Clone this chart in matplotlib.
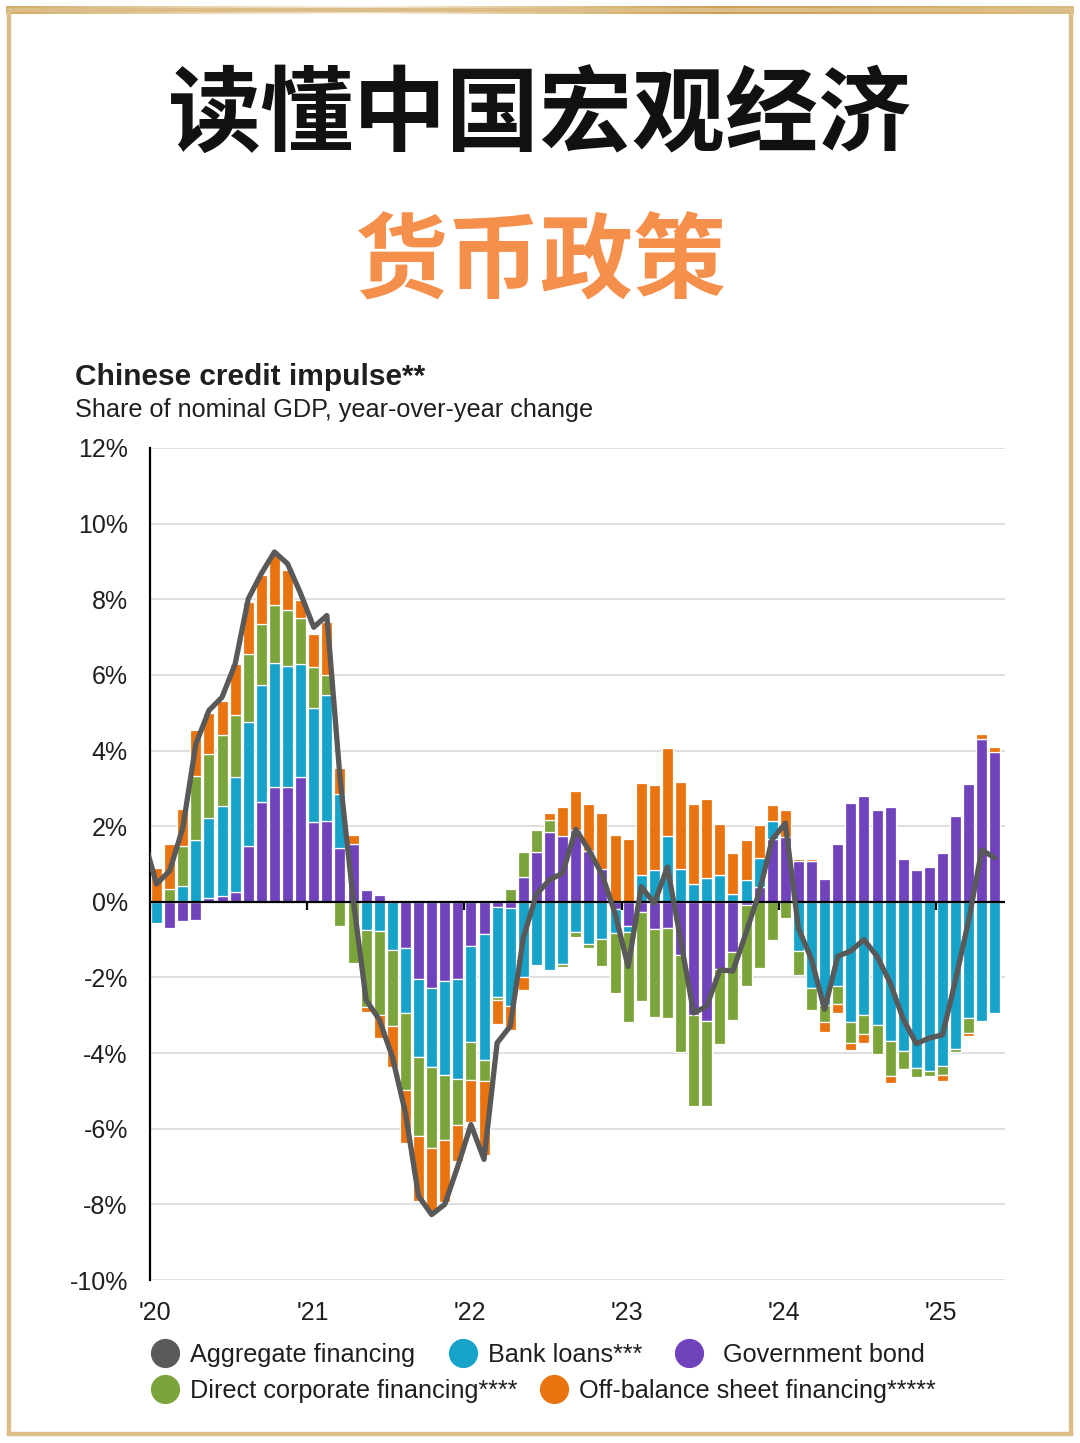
import matplotlib
matplotlib.use('Agg')
import matplotlib.pyplot as plt
import numpy as np
from matplotlib.colors import LinearSegmentedColormap
from matplotlib.lines import Line2D
from matplotlib.patches import Rectangle

plt.rcParams['font.family'] = ['Liberation Sans', 'DejaVu Sans']

# monthly bars, Jan 2020 .. May 2025 (share of nominal GDP, % yoy change)
gov_bond = [0, -0.68, -0.5, -0.49, 0.11, 0.16, 0.25, 1.48, 2.63, 3.04, 3.04, 3.29,
            2.1, 2.13, 1.42, 1.53, 0.31, 0.19, 0, -1.23, -2.05, -2.27, -2.1, -2.05,
            -1.17, -0.86, -0.13, -0.16, 0.66, 1.32, 1.85, 1.73, 1.9, 1.35, 0.87, -0.2,
            -0.63, -0.28, -0.72, -0.68, -1.4, -2.99, -3.14, -1.77, -1.33, -0.08, 0.4, 1.65,
            1.72, 1.09, 1.07, 0.61, 1.52, 2.62, 2.81, 2.44, 2.5, 1.12, 0.83, 0.92,
            1.3, 2.26, 3.11, 4.3, 3.95]
bank_loans = [-0.55, 0, 0.42, 1.63, 2.1, 2.38, 3.05, 3.27, 3.09, 3.27, 3.2, 3.0,
              3.02, 3.33, 1.43, 0, -0.75, -0.76, -1.28, -1.7, -2.05, -2.1, -2.49, -2.63,
              -2.54, -3.33, -2.38, -2.6, -1.99, -1.68, -1.81, -1.64, -0.81, -1.12, -0.99, -0.62,
              -0.18, 0.7, 0.83, 1.73, 0.88, 0.48, 0.62, 0.7, 0.2, 0.57, 0.76, 0.48,
              0, -1.3, -2.29, -2.73, -2.22, -3.17, -3.0, -3.26, -3.67, -3.95, -4.39, -4.47,
              -4.33, -3.89, -3.06, -3.15, -2.94]
direct_corp = [0, 0.34, 1.06, 1.7, 1.69, 1.88, 1.63, 1.79, 1.62, 1.55, 1.47, 1.22,
               1.09, 0.53, -0.64, -1.61, -2.04, -2.23, -2.0, -2.05, -2.1, -2.14, -1.7, -1.22,
               -1.0, -0.55, -0.09, 0.33, 0.66, 0.57, 0.31, -0.08, -0.11, -0.09, -0.72, -1.6,
               -2.36, -2.33, -2.32, -2.4, -2.58, -2.4, -2.25, -1.99, -1.79, -2.14, -1.76, -1.01,
               -0.44, -0.63, -0.57, -0.44, -0.47, -0.56, -0.49, -0.77, -0.93, -0.46, -0.24, -0.13,
               -0.26, -0.09, -0.41, 0, 0]
off_balance = [0.9, 1.19, 0.97, 1.22, 1.08, 0.88, 1.37, 1.39, 1.3, 1.3, 1.06, 0.48,
               0.88, 1.41, 0.69, 0.25, -0.13, -0.6, -1.08, -1.39, -1.7, -1.66, -1.66, -0.95,
               -1.1, -1.96, -0.62, -0.62, -0.35, 0, 0.18, 0.78, 1.04, 1.23, 1.47, 1.77,
               1.66, 2.44, 2.25, 2.34, 2.29, 2.1, 2.1, 1.35, 1.1, 1.06, 0.87, 0.44,
               0.72, 0.05, 0.06, -0.28, -0.26, -0.2, -0.25, 0, -0.18, -0.04, 0, 0,
               -0.16, 0, -0.08, 0.15, 0.15]
# aggregate financing line, Dec 2019 .. May 2025
aggregate = [1.7, 0.47, 0.82, 1.95, 4.17, 5.06, 5.41, 6.29, 8.01, 8.68, 9.25, 8.94, 8.15,
             7.26, 7.57, 3.3, 0.1, -2.6, -3.11, -4.1, -5.58, -7.78, -8.27, -8.0, -6.99,
             -5.89, -6.81, -3.73, -3.29, -0.95, 0.2, 0.58, 0.76, 1.92, 1.37, 0.73, -0.3,
             -1.71, 0.4, -0.04, 0.92, -1.0, -2.94, -2.76, -1.8, -1.83, -0.82, 0.24, 1.65,
             2.08, -0.7, -1.52, -2.84, -1.44, -1.3, -1.0, -1.44, -2.14, -3.1, -3.75, -3.6,
             -3.52, -2.06, -0.48, 1.37, 1.16]
years = ["'20", "'21", "'22", "'23", "'24", "'25"]
y_ticks = [-10, -8, -6, -4, -2, 0, 2, 4, 6, 8, 10, 12]

C_PURPLE = '#7043bd'
C_BLUE = '#17a2c9'
C_GREEN = '#7ba43a'
C_ORANGE = '#e9730f'
C_LINE = '#595959'
TXT = '#1f1f1f'

W, H = 1080, 1443
fig = plt.figure(figsize=(W / 100, H / 100), dpi=100)
fig.patch.set_facecolor('white')

# frame
fig.patches.append(Rectangle((9 / W, 9 / H), 1062 / W, 1424 / H, transform=fig.transFigure,
                             fill=False, ec='#dcbd88', lw=3.2))
gax = fig.add_axes([6 / W, 1 - 14 / H, 1068 / W, 8 / H])
gcm = LinearSegmentedColormap.from_list('gold', ['#d0aa68', '#e9d5ae', '#f7f1e6', '#e2c792',
                                                 '#c99b50', '#d2aa66', '#dcbb80'])
gax.imshow(np.linspace(0, 1, 300).reshape(1, -1), aspect='auto', cmap=gcm)
gax.axis('off')

# headings
fig.text(0.5, 1 - 117 / H, '读懂中国宏观经济', ha='center', va='center', fontsize=67,
         fontweight='black', color='#111111', family=['Noto Sans CJK SC', 'DejaVu Sans'])
fig.text(0.5, 1 - 263 / H, '货币政策', ha='center', va='center', fontsize=67,
         fontweight='black', color='#f5904c', family=['Noto Sans CJK SC', 'DejaVu Sans'])
fig.text(75 / W, 1 - 377 / H, 'Chinese credit impulse**', ha='left', va='center',
         fontsize=21.5, fontweight='bold', color=TXT)
fig.text(75 / W, 1 - 410 / H, 'Share of nominal GDP, year-over-year change', ha='left',
         va='center', fontsize=18.2, color=TXT)

ax = fig.add_axes([150 / W, 1 - 1280 / H, 855 / W, 832 / H])
x = np.arange(len(gov_bond))
pos_base = np.zeros(len(x))
neg_base = np.zeros(len(x))
for vals, col in [(gov_bond, C_PURPLE), (bank_loans, C_BLUE),
                  (direct_corp, C_GREEN), (off_balance, C_ORANGE)]:
    v = np.array(vals, dtype=float)
    base = np.where(v >= 0, pos_base, neg_base)
    m = v != 0
    ax.bar(x[m], v[m], bottom=base[m], width=0.84, color=col, edgecolor='white',
           linewidth=0.9, zorder=2)
    pos_base += np.clip(v, 0, None)
    neg_base += np.clip(v, None, 0)

ax.axhline(0, color='black', lw=1.6, zorder=3)
ax.plot(np.arange(0, len(years)) * 12 - 0.5, np.zeros(len(years)), ls='none', marker=3,
        ms=6, mew=1.6, color='black', zorder=3)
ax.plot(np.arange(-1, len(aggregate) - 1), aggregate, color=C_LINE, lw=3.8,
        solid_joinstyle='round', solid_capstyle='round', zorder=4)

ax.set_xlim(-0.5, 64.77)
ax.set_ylim(-10, 12)
ax.set_yticks(y_ticks)
ax.set_yticklabels([f'{v}%' for v in y_ticks])
ax.set_xticks(np.arange(len(years)) * 12 - 0.1)
ax.set_xticklabels(years)
ax.tick_params(axis='both', length=0, labelsize=18, colors=TXT)
ax.tick_params(axis='y', pad=16)
ax.tick_params(axis='x', pad=15)
ax.yaxis.grid(True, color='#d9d9d9', lw=1.2)
ax.set_axisbelow(True)
for s in ['top', 'right', 'bottom']:
    ax.spines[s].set_visible(False)
ax.spines['left'].set_color('black')
ax.spines['left'].set_linewidth(1.6)

# legend, one entry at a time to keep the original spacing
entries = [('Aggregate financing', C_LINE, 150, 1355, 0.38),
           ('Bank loans***', C_BLUE, 448, 1355, 0.38),
           ('Government bond', C_PURPLE, 674, 1355, 0.75),
           ('Direct corporate financing****', C_GREEN, 150, 1391, 0.38),
           ('Off-balance sheet financing*****', C_ORANGE, 539, 1391, 0.38)]
for label, col, lx, ly, tp in entries:
    h = Line2D([], [], ls='none', marker='o', ms=20, color=col)
    fig.legend([h], [label], loc='center left', bbox_to_anchor=(lx / W, 1 - ly / H),
               frameon=False, fontsize=18.2, handlelength=1.2, handletextpad=tp,
               borderpad=0, borderaxespad=0, labelcolor=TXT)

fig.savefig('out.png', dpi=100, facecolor='white')
